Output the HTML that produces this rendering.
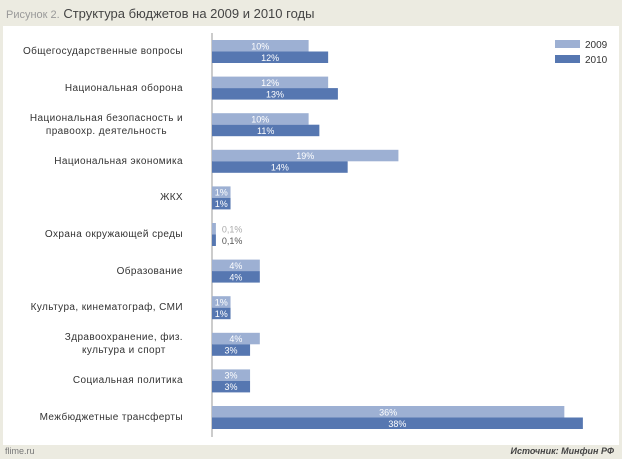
<!DOCTYPE html>
<html><head><meta charset="utf-8">
<style>
body{margin:0;width:622px;height:459px;overflow:hidden;background:#ecebe1;font-family:"Liberation Sans","DejaVu Sans",sans-serif;}
#panel{position:absolute;left:3px;top:26px;width:616px;height:419px;background:#fff;}
.cat{position:absolute;right:439px;font-size:10px;color:#333;text-align:center;letter-spacing:0.4px;line-height:13px;white-space:nowrap}
</style></head><body>
<div style="position:absolute;left:6px;top:6px;font-size:13px;color:#444;white-space:nowrap"><span style="color:#999;font-size:11px">Рисунок 2.</span> Структура бюджетов на 2009 и 2010 годы</div>
<div id="panel"></div>
<div id="cats"></div>
<svg id="chart" width="622" height="459" style="position:absolute;left:0;top:0"></svg>
<div style="position:absolute;left:5px;top:446px;font-size:9px;color:#777">flime.ru</div>
<div style="position:absolute;right:8px;top:446px;font-size:9px;color:#444;font-style:italic;font-weight:bold">Источник: Минфин РФ</div>
<script>
const categories=["Общегосударственные вопросы","Национальная оборона","Национальная безопасность и<br>правоохр. деятельность","Национальная экономика","ЖКХ","Охрана окружающей среды","Образование","Культура, кинематограф, СМИ","Здравоохранение, физ.<br>культура и спорт","Социальная политика","Межбюджетные трансферты"];
const values2009=[9.9,11.9,9.9,19.1,1.9,0.4,4.9,1.9,4.9,3.9,36.1];
const values2010=[11.9,12.9,11.0,13.9,1.9,0.4,4.9,1.9,3.9,3.9,38.0];
const labels2009=["10%","12%","10%","19%","1%","0,1%","4%","1%","4%","3%","36%"];
const labels2010=["12%","13%","11%","14%","1%","0,1%","4%","1%","3%","3%","38%"];
const x0=212,pxPer=9.76,y0=40,rowH=36.6,barH=11.5;
const xs=v=>x0+v*pxPer;
const ys=i=>y0+i*rowH;
const NS="http://www.w3.org/2000/svg";
const svg=document.getElementById('chart');
function mk(tag,at){const e=document.createElementNS(NS,tag);for(const k in at)e.setAttribute(k,at[k]);svg.appendChild(e);return e;}
const ax=mk('line',{x1:x0,y1:33,x2:x0,y2:437,stroke:'#999','stroke-width':1});


const cats=document.getElementById('cats');
categories.forEach((c,i)=>{
  const d=document.createElement('div');
  d.className='cat';d.innerHTML=c;
  
  
  const two=c.includes('<br>');
  d.style.top=(ys(i)+barH-(two?13:6.5))+'px';
  cats.appendChild(d);
  [[values2009,labels2009,'#9db0d3',0,'bar-2009'],[values2010,labels2010,'#5677b1',1,'bar-2010']].forEach(([vals,labs,col,k,nm])=>{
    const y=ys(i)+k*barH;
    const r=mk('rect',{x:x0,y:y,width:xs(vals[i])-x0,height:barH,fill:col});
    
    
    const w=xs(vals[i])-x0;
    const inside=w>15;
    const t=mk('text',{x:inside?(x0+xs(vals[i]))/2:xs(vals[i])+6,y:y+barH/2+3.5,'font-size':9,fill:inside?'#fff':(k?'#555':'#aaa'),'text-anchor':inside?'middle':'start'});
    t.textContent=labs[i];
    
    
  });
});
[['#9db0d3','2009',40],['#5677b1','2010',55]].forEach(([c,l,y])=>{
  const r=mk('rect',{x:555,y:y,width:25,height:8,fill:c});
  
  
  const t=mk('text',{x:585,y:y+8,'font-size':10,fill:'#333'});
  t.textContent=l;
  
  
});
</script>
</body></html>
